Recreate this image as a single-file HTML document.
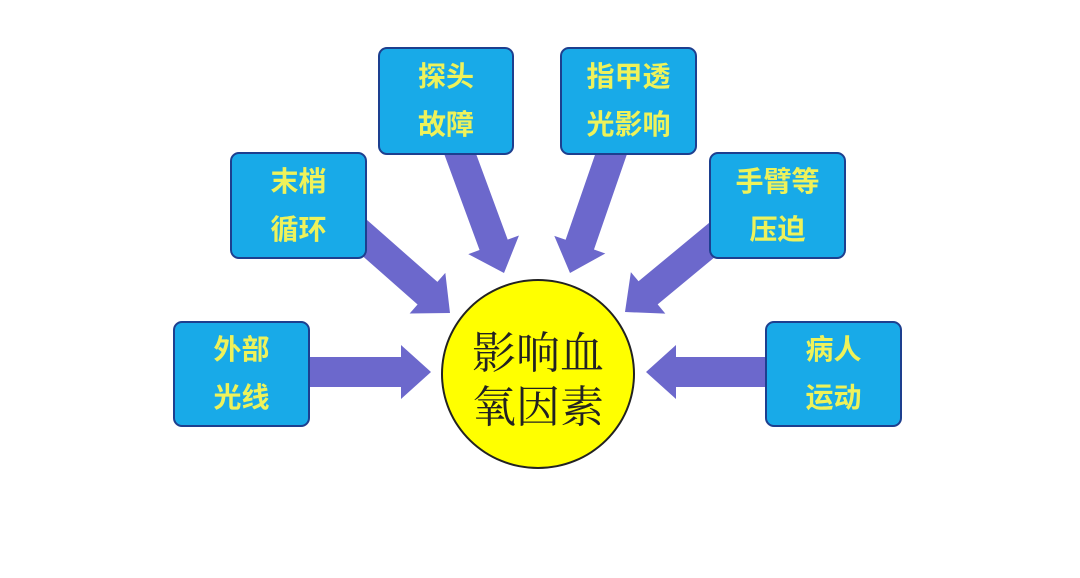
<!DOCTYPE html>
<html><head><meta charset="utf-8"><style>
html,body{margin:0;padding:0;background:#fff;}
body{width:1080px;height:578px;position:relative;overflow:hidden;}
.b{position:absolute;background:#18aae8;border:2px solid #1d3f8f;border-radius:9px;box-sizing:border-box;
display:flex;align-items:center;justify-content:center;text-align:center;color:#eef25a;
font:bold 28px/48px "Liberation Sans","Noto Sans CJK SC",sans-serif;}
.c{position:absolute;left:441px;top:279px;width:194px;height:190px;border-radius:50%;background:#ffff00;border:2px solid #222;box-sizing:border-box;
display:flex;align-items:center;justify-content:center;text-align:center;color:#222;
font:44px/54px "Noto Serif CJK SC",serif;padding-top:4px}
svg{position:absolute;left:0;top:0}
</style></head><body>
<svg width="1080" height="578" id="s"></svg>
<div class="b" style="left:173px;top:321px;width:137px;height:106px">外部<br>光线</div>
<div class="b" style="left:230px;top:152px;width:137px;height:107px">末梢<br>循环</div>
<div class="b" style="left:378px;top:47px;width:136px;height:108px">探头<br>故障</div>
<div class="b" style="left:560px;top:47px;width:137px;height:108px">指甲透<br>光影响</div>
<div class="b" style="left:709px;top:152px;width:137px;height:107px">手臂等<br>压迫</div>
<div class="b" style="left:765px;top:321px;width:137px;height:106px">病人<br>运动</div>
<div class="c">影响血<br>氧因素</div>
<script>
var s=document.getElementById('s');
function A(x1,y1,x2,y2){var dx=x2-x1,dy=y2-y1,L=Math.hypot(dx,dy),ux=dx/L,uy=dy/L,nx=-uy,ny=ux,w=15,h=27,hl=30;
var bx=x2-ux*hl,by=y2-uy*hl;
var p=[[x1+nx*w,y1+ny*w],[bx+nx*w,by+ny*w],[bx+nx*h,by+ny*h],[x2,y2],[bx-nx*h,by-ny*h],[bx-nx*w,by-ny*w],[x1-nx*w,y1-ny*w]];
var e=document.createElementNS('http://www.w3.org/2000/svg','polygon');
e.setAttribute('points',p.map(function(q){return q.join(',')}).join(' '));e.setAttribute('fill','#6c68cc');s.appendChild(e);}
A(300,372,431,372);
A(350,225,450,313);
A(455,140,504,273);
A(616,140,570,273);
A(730,225,625,312);
A(780,372,646,372);
</script>
</body></html>
